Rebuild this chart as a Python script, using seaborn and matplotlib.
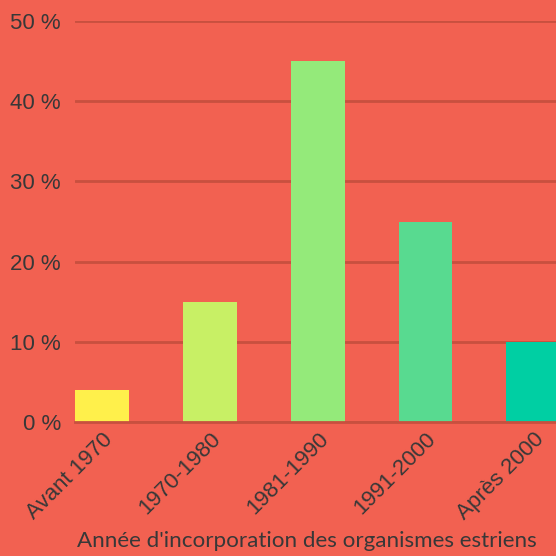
import matplotlib
matplotlib.use("Agg")
import matplotlib.pyplot as plt
import seaborn as sns
import pandas as pd

periodes = ["Avant 1970", "1970-1980", "1981-1990", "1991-2000", "Après 2000"]
pourcentages = [4, 15, 45, 25, 10]
couleurs = ["#FFF04B", "#C8F065", "#94EA7A", "#58DA90", "#00CFA3"]
yticks = [0, 10, 20, 30, 40, 50]

fond = "#F26151"
grille = "#C8503F"
texte = "#383838"

df = pd.DataFrame({"periode": periodes, "pct": pourcentages})

sns.set_style("white")
plt.rcParams['font.family'] = ['Liberation Sans', 'DejaVu Sans']

fig = plt.figure(figsize=(5.56, 5.56), dpi=100)
fig.patch.set_facecolor(fond)
ax = fig.add_axes([75/556, 1 - 422/556, 1 - 75/556, (422 - 21)/556])
ax.set_facecolor(fond)

sns.barplot(data=df, x="periode", y="pct", hue="periode", palette=couleurs,
            width=0.5, legend=False, ax=ax, zorder=3, saturation=1,
            linewidth=0)

ax.set_xlim(-0.25, 4.21)
ax.set_ylim(0, 50)
ax.set_yticks(yticks)
ax.set_yticklabels([f"{v} %" for v in yticks], fontsize=16, color=texte)
ax.yaxis.grid(True, color=grille, linewidth=2, zorder=0)
ax.tick_params(axis="y", length=0, pad=10)
ax.tick_params(axis="x", length=0, pad=5)
for lab in ax.get_xticklabels():
    lab.set_rotation(45)
    lab.set_ha("right")
    lab.set_rotation_mode("anchor")
    lab.set_fontsize(16)
    lab.set_color(texte)

for s in ["top", "right", "left"]:
    ax.spines[s].set_visible(False)
ax.spines["bottom"].set_color(grille)
ax.spines["bottom"].set_linewidth(2)
ax.spines["bottom"].set_zorder(4)

ax.set_ylabel("")
ax.set_xlabel("Année d'incorporation des organismes estriens", fontsize=16.1,
              color=texte, family=["Lato", "DejaVu Sans"])
ax.xaxis.set_label_coords(0.483, -0.272)

fig.savefig("out.png", dpi=100, facecolor=fond)
